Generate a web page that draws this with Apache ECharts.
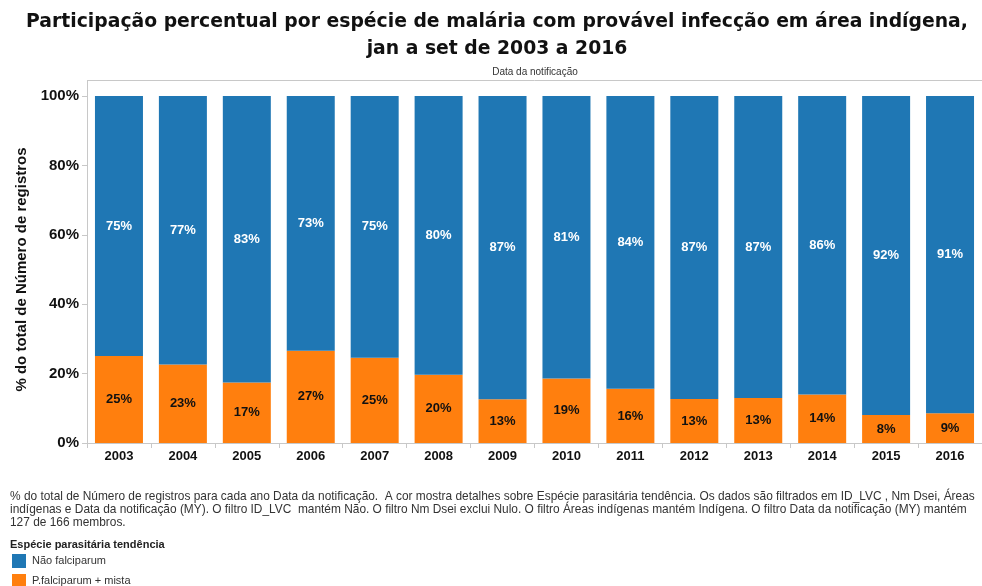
<!DOCTYPE html>
<html>
<head>
<meta charset="utf-8">
<script src="https://cdn.jsdelivr.net/npm/echarts@6/dist/echarts.min.js"></script>
<style>
  html, body { margin: 0; padding: 0; background: #fff; }
  #chart { width: 982px; height: 586px; }
</style>
</head>
<body>
<div id="chart"></div>
<script>
// Years on the x axis
const years = ['2003', '2004', '2005', '2006', '2007', '2008', '2009', '2010', '2011', '2012', '2013', '2014', '2015', '2016'];
// Share (%) of P. falciparum + mista per year
const falciparumMista = [25.1, 22.6, 17.4, 26.6, 24.6, 19.7, 12.6, 18.6, 15.6, 12.7, 13.0, 14.0, 8.1, 8.6];
// Share (%) of the remaining species (não falciparum)
const naoFalciparum = falciparumMista.map(v => +(100 - v).toFixed(1));
// Y axis tick values
const yTicks = [0, 20, 40, 60, 80, 100];

const seriesNames = ['Não falciparum', 'P.falciparum + mista'];
const colors = { blue: '#1f77b4', orange: '#ff7f0e' };

const titleLines = [
  'Participação percentual por espécie de malária com provável infecção em área indígena,',
  'jan a set de 2003 a 2016'
];

const footnoteLines = [
  '% do total de Número de registros para cada ano Data da notificação.  A cor mostra detalhes sobre Espécie parasitária tendência. Os dados são filtrados em ID_LVC , Nm Dsei, Áreas',
  'indígenas e Data da notificação (MY). O filtro ID_LVC  mantém Não. O filtro Nm Dsei exclui Nulo. O filtro Áreas indígenas mantém Indígena. O filtro Data da notificação (MY) mantém',
  '127 de 166 membros.'
];

const chart = echarts.init(document.getElementById('chart'), null, { renderer: 'canvas' });

const sans = 'Liberation Sans, Arial, sans-serif';
const labelFont = { fontFamily: sans, fontWeight: 'bold', fontSize: 13 };

chart.setOption({
  animation: false,
  backgroundColor: '#ffffff',
  legend: {
    orient: 'vertical',
    left: 7,
    top: 549,
    height: 60,
    padding: 5,
    itemWidth: 14,
    itemHeight: 14,
    itemGap: 6,
    icon: 'rect',
    data: seriesNames,
    textStyle: { fontFamily: sans, fontSize: 11, color: '#333', padding: [0, 0, 0, 1] }
  },
  grid: { left: 87, top: 96, width: 898, height: 347, containLabel: false },
  xAxis: {
    type: 'category',
    data: years,
    axisLine: { show: true, lineStyle: { color: '#c8c8c8' } },
    axisTick: { show: true, length: 5, lineStyle: { color: '#c8c8c8' } },
    axisLabel: { ...labelFont, color: '#111', margin: 7 }
  },
  yAxis: {
    type: 'value',
    min: 0,
    max: 100,
    interval: 20,
    name: '% do total de Número de registros',
    nameLocation: 'middle',
    nameGap: 58,
    nameTextStyle: { fontFamily: sans, fontWeight: 'bold', fontSize: 15, color: '#111' },
    axisLine: { show: true, lineStyle: { color: '#c8c8c8' } },
    axisTick: { show: true, length: 5, lineStyle: { color: '#c8c8c8' } },
    splitLine: { show: false },
    axisLabel: {
      fontFamily: sans, fontWeight: 'bold', fontSize: 15, color: '#111', margin: 8,
      formatter: v => (yTicks.includes(v) ? v + '%' : '')
    }
  },
  series: [
    {
      name: seriesNames[1],
      type: 'bar',
      stack: 'total',
      barWidth: 48,
      data: falciparumMista,
      itemStyle: { color: colors.orange },
      label: { show: true, position: 'inside', ...labelFont, color: '#111', formatter: p => Math.round(p.value) + '%' }
    },
    {
      name: seriesNames[0],
      type: 'bar',
      stack: 'total',
      barWidth: 48,
      data: naoFalciparum,
      itemStyle: { color: colors.blue },
      label: { show: true, position: 'inside', ...labelFont, color: '#fff', formatter: p => Math.round(p.value) + '%' }
    }
  ],
  graphic: [
    {
      type: 'text', x: 497, y: 22,
      style: { text: titleLines[0], align: 'center', verticalAlign: 'middle', fontFamily: 'DejaVu Sans, sans-serif', fontWeight: 'bold', fontSize: 18.8, fill: '#111' }
    },
    {
      type: 'text', x: 497, y: 49,
      style: { text: titleLines[1], align: 'center', verticalAlign: 'middle', fontFamily: 'DejaVu Sans, sans-serif', fontWeight: 'bold', fontSize: 18.8, fill: '#111' }
    },
    {
      type: 'text', x: 535, y: 72,
      style: { text: 'Data da notificação', align: 'center', verticalAlign: 'middle', fontFamily: sans, fontSize: 10, fill: '#333' }
    },
    { type: 'line', shape: { x1: 87, y1: 80.5, x2: 982, y2: 80.5 }, style: { stroke: '#c8c8c8', lineWidth: 1 } },
    { type: 'line', shape: { x1: 87.5, y1: 80, x2: 87.5, y2: 96 }, style: { stroke: '#c8c8c8', lineWidth: 1 } },
    {
      type: 'text', x: 10, y: 490,
      style: { text: footnoteLines.join('\n'), fontFamily: sans, fontSize: 11.9, lineHeight: 13, fill: '#333' }
    },
    {
      type: 'text', x: 10, y: 539,
      style: { text: 'Espécie parasitária tendência', fontFamily: sans, fontWeight: 'bold', fontSize: 11, fill: '#222' }
    }
  ]
});
</script>
</body>
</html>
